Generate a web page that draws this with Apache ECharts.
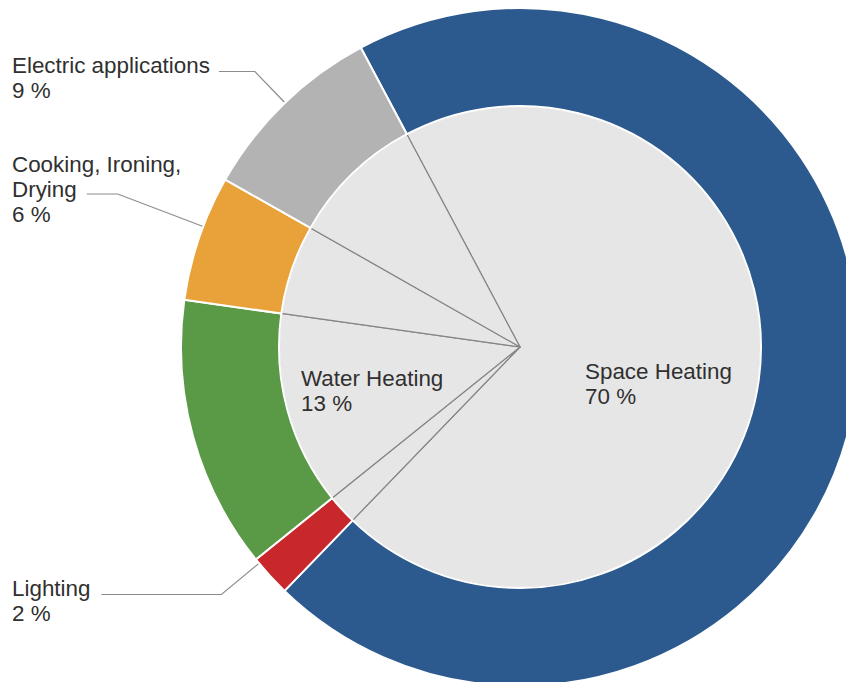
<!DOCTYPE html>
<html>
<head>
<meta charset="utf-8">
<title>Household energy use</title>
<script src="https://cdn.jsdelivr.net/npm/echarts@6/dist/echarts.min.js"></script>
<style>
  html, body { margin: 0; padding: 0; background: #ffffff; }
  #chart { width: 846px; height: 682px; }
</style>
</head>
<body>
<div id="chart"></div>
<script>
// Shares of household energy use, clockwise from the top
const categories = ['Space Heating', 'Lighting', 'Water Heating', 'Cooking, Ironing,\nDrying', 'Electric applications'];
const shares = [70, 2, 13, 6, 9];
const ringColors = ['#2c5a8e', '#c8272c', '#5a9a46', '#e9a23a', '#b3b3b3'];

// Which categories are labelled inside the disc and which get a callout
const innerLabelled = ['Space Heating', 'Water Heating'];

const FONT_FAMILY = '"Liberation Sans", Arial, Helvetica, sans-serif';
const FONT_SIZE = 22.4;
const LINE_H = 25;
const TEXT_COLOR = '#303030';

const ringCenter = [520, 347];
const innerR = 241;
const outerR = 339;
const startAngle = 118;

// Text block placement: left edge, vertical middle, which row the leader leaves from,
// gap after that row's text and length of the horizontal run
const calloutSpots = {
  'Electric applications': { left: 12, middle: 78, row: 0, drop: 6, gap: 9, run: 36 },
  'Cooking, Ironing,\nDrying': { left: 12, middle: 189, row: 1, drop: 5, gap: 10, run: 31 },
  'Lighting': { left: 12, middle: 601, row: 0, drop: 6, gap: 11, run: 120 }
};
const innerSpots = {
  'Space Heating': { left: 585, middle: 384 },
  'Water Heating': { left: 301, middle: 391 }
};

const measureCtx = document.createElement('canvas').getContext('2d');
measureCtx.font = FONT_SIZE + 'px ' + FONT_FAMILY;
function textWidth(s) { return measureCtx.measureText(s).width; }

function labelText(name, value) { return name + '\n' + value + ' %'; }

const ringData = categories.map(function (name, i) {
  const hasCallout = !!calloutSpots[name];
  return {
    name: name,
    value: shares[i],
    itemStyle: { color: ringColors[i] },
    label: { show: hasCallout },
    labelLine: { show: hasCallout }
  };
});

const discData = categories.map(function (name, i) {
  return {
    name: name,
    value: shares[i],
    label: { show: innerLabelled.indexOf(name) >= 0 }
  };
});

const textStyle = {
  color: TEXT_COLOR,
  fontFamily: FONT_FAMILY,
  fontSize: FONT_SIZE,
  lineHeight: LINE_H,
  overflow: 'none',
  formatter: function (p) { return labelText(p.name, p.value); }
};

const chart = echarts.init(document.getElementById('chart'), null, { renderer: 'svg' });

chart.setOption({
  animation: false,
  backgroundColor: '#ffffff',
  series: [
    {
      // light disc split by thin radial lines
      type: 'pie',
      center: ringCenter,
      radius: [0, innerR],
      startAngle: startAngle,
      clockwise: true,
      silent: true,
      avoidLabelOverlap: false,
      itemStyle: { color: '#e6e6e6', borderColor: '#858585', borderWidth: 1.2 },
      label: Object.assign({ position: 'inside' }, textStyle),
      labelLine: { show: false },
      emphasis: { disabled: true },
      labelLayout: function (params) {
        const spot = innerSpots[categories[params.dataIndex]];
        if (!spot) return {};
        return { x: spot.left, y: spot.middle, align: 'left', verticalAlign: 'middle' };
      },
      data: discData
    },
    {
      // coloured outer ring with callouts
      type: 'pie',
      center: ringCenter,
      radius: [innerR, outerR],
      startAngle: startAngle,
      clockwise: true,
      silent: true,
      itemStyle: { borderColor: '#ffffff', borderWidth: 2 },
      label: Object.assign({ position: 'outside' }, textStyle),
      labelLine: { show: true, lineStyle: { color: '#8c8c8c', width: 1.2 } },
      emphasis: { disabled: true },
      labelLayout: function (params) {
        const spot = calloutSpots[categories[params.dataIndex]];
        if (!spot) return {};
        const lines = params.text.split('\n');
        const firstRow = spot.middle - (lines.length - 1) * LINE_H / 2;
        const rowY = firstRow + spot.row * LINE_H + spot.drop;
        const lineStartX = spot.left + textWidth(lines[spot.row]) + spot.gap;
        const bend = [lineStartX + spot.run, rowY];
        const dx = bend[0] - ringCenter[0];
        const dy = bend[1] - ringCenter[1];
        const d = Math.sqrt(dx * dx + dy * dy);
        const onRing = [ringCenter[0] + dx / d * outerR, ringCenter[1] + dy / d * outerR];
        return {
          x: spot.left,
          y: spot.middle,
          align: 'left',
          verticalAlign: 'middle',
          labelLinePoints: [onRing, bend, [lineStartX, rowY]]
        };
      },
      data: ringData
    }
  ]
});
</script>
</body>
</html>
